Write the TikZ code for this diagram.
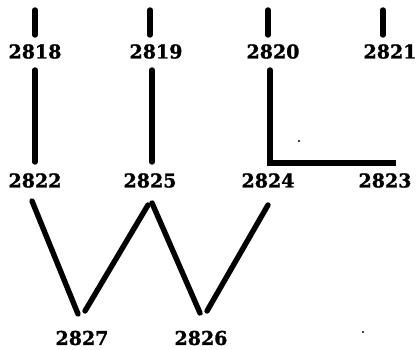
\documentclass[tikz,border=0pt]{standalone}
\usepackage{fontspec}
\setmainfont{DejaVu Serif}[BoldFont={DejaVu Serif Bold},BoldFeatures={FakeBold=1.3}]
\begin{document}
\begin{tikzpicture}[x=1pt,y=-1pt,
  lbl/.style={inner sep=0pt,font=\fontsize{19}{19}\selectfont\bfseries},
  edge/.style={line width=5.4pt,line cap=round,line join=miter},
  speck/.style={fill=black}]
\useasboundingbox (0,0) rectangle (418,350);
% labels
\node[lbl] (n2818) at (35,51.5) {2818};
\node[lbl] (n2819) at (156,51.5) {2819};
\node[lbl] (n2820) at (273,51.5) {2820};
\node[lbl] (n2821) at (390,51.5) {2821};
\node[lbl] (n2822) at (35,180.5) {2822};
\node[lbl] (n2825) at (150,180.5) {2825};
\node[lbl] (n2824) at (268,180.5) {2824};
\node[lbl] (n2823) at (385,180.5) {2823};
\node[lbl] (n2827) at (82,338) {2827};
\node[lbl] (n2826) at (201,338) {2826};
% stub free ends
\coordinate (s18a) at (35,10); \coordinate (s18b) at (35,35);
\coordinate (s19a) at (150,10); \coordinate (s19b) at (150,35);
\coordinate (s20a) at (268,10); \coordinate (s20b) at (268,35);
\coordinate (s21a) at (383,10); \coordinate (s21b) at (383,35);
\draw[edge] (s18a) -- (s18b);
\draw[edge] (s19a) -- (s19b);
\draw[edge] (s20a) -- (s20b);
\draw[edge] (s21a) -- (s21b);
% verticals
\coordinate (v18a) at (35,70); \coordinate (v18b) at (35,162);
\coordinate (v19a) at (152,70); \coordinate (v19b) at (152,162);
\coordinate (v20a) at (270,70); \coordinate (corner) at (270,163);
\coordinate (hend) at (396,163);
\draw[edge] (v18a) -- (v18b);
\draw[edge] (v19a) -- (v19b);
\draw[edge,line cap=butt] (v20a) -- (corner) -- (hend);
\draw[edge,line cap=round] (v20a) -- ++(0,0.1);
% W
\coordinate (w1) at (32,201); \coordinate (w2) at (78,314);
\coordinate (w3) at (85,311); \coordinate (w4) at (148,205);
\coordinate (w5) at (152,203); \coordinate (w6) at (200,313);
\coordinate (w7) at (207,311); \coordinate (w8) at (268,205);
\draw[edge] (w1) -- (w2);
\draw[edge] (w3) -- (w4);
\draw[edge] (w5) -- (w6);
\draw[edge] (w7) -- (w8);
% specks
\fill[speck] (299,141) circle (1.1pt);
\fill[speck] (363,332) circle (1.1pt);
\end{tikzpicture}
\end{document}
